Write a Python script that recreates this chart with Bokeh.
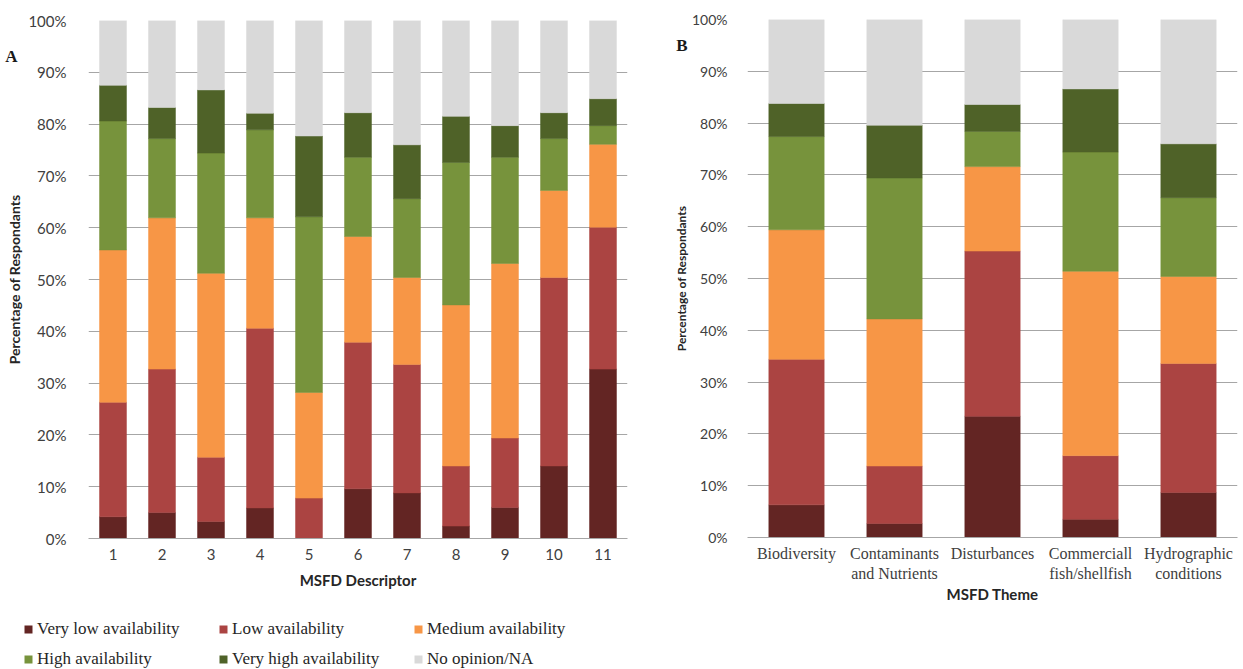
from bokeh.plotting import figure
from bokeh.layouts import row, column
from bokeh.models import (ColumnDataSource, Legend, LegendItem, LinearAxis,
                          CustomJSTickFormatter, PrintfTickFormatter,
                          FixedTicker, Range1d, FactorRange)
from bokeh.embed import file_html
from bokeh.resources import INLINE

# ---------------- data ----------------
levels = ["Very low availability", "Low availability", "Medium availability",
          "High availability", "Very high availability", "No opinion/NA"]
keys = ["vlow", "low", "med", "high", "vhigh", "na"]
colors = ["#632523", "#ab4442", "#f79646", "#77933c", "#4f6228", "#d9d9d9"]

descriptors = ["1", "2", "3", "4", "5", "6", "7", "8", "9", "10", "11"]
a_vlow = [4.2, 5.0, 3.3, 5.9, 0.0, 9.6, 8.8, 2.4, 6.0, 14.0, 32.7]
a_low = [22.1, 27.7, 12.4, 34.7, 7.8, 28.3, 24.8, 11.6, 13.4, 36.4, 27.4]
a_med = [29.4, 29.2, 35.5, 21.3, 20.4, 20.4, 16.8, 31.1, 33.7, 16.8, 16.0]
a_high = [24.9, 15.3, 23.2, 17.0, 33.9, 15.3, 15.2, 27.5, 20.5, 10.0, 3.6]
a_vhigh = [6.9, 6.0, 12.2, 3.2, 15.6, 8.6, 10.4, 8.9, 6.1, 5.0, 5.2]
a_na = [12.5, 16.8, 13.4, 17.9, 22.3, 17.8, 24.0, 18.5, 20.3, 17.8, 15.1]

themes = ["Biodiversity", "Contaminants\nand Nutrients", "Disturbances",
          "Commerciall\nfish/shellfish", "Hydrographic\nconditions"]
b_vlow = [6.3, 2.7, 23.4, 3.5, 8.7]
b_low = [28.1, 11.1, 31.9, 12.3, 24.9]
b_med = [25.0, 28.4, 16.3, 35.6, 16.8]
b_high = [18.0, 27.2, 6.8, 23.0, 15.2]
b_vhigh = [6.4, 10.2, 5.2, 12.2, 10.4]
b_na = [16.2, 20.4, 16.4, 13.4, 24.0]

y_ticks = list(range(0, 101, 10))

GRID = "#a6a6a6"
TICK_COL = "#404040"
TITLE_COL = "#262626"


def make_panel(factors, series, width, height, bw, border, tick_size, title_size,
               xlabel, ylabel, ystandoff, ylab_standoff, xstandoff, xlab_standoff,
               xlabel_font, xlabel_size):
    data = {"x": factors}
    for k, s in zip(keys, series):
        data[k] = s
    src = ColumnDataSource(data)
    left, right, top, bottom = border
    p = figure(x_range=FactorRange(*factors), y_range=Range1d(0, 100),
               width=width, height=height, output_backend="svg",
               toolbar_location=None, min_border_left=left,
               min_border_right=right, min_border_top=top,
               min_border_bottom=bottom)
    p.vbar_stack(keys, x="x", width=bw, source=src, fill_color=colors,
                 line_color=colors, line_width=0.5)
    p.outline_line_color = None
    p.xgrid.grid_line_color = None
    p.ygrid.grid_line_color = GRID
    p.ygrid.grid_line_width = 1
    p.yaxis.ticker = FixedTicker(ticks=y_ticks)
    p.yaxis.formatter = PrintfTickFormatter(format="%d%%")
    p.yaxis.axis_line_color = None
    p.yaxis.major_tick_line_color = None
    p.yaxis.minor_tick_line_color = None
    p.yaxis.major_label_standoff = ystandoff
    p.yaxis.major_label_text_font = "Lato"
    p.yaxis.major_label_text_font_size = tick_size
    p.yaxis.major_label_text_color = TICK_COL
    p.yaxis.axis_label = ylabel
    p.yaxis.axis_label_standoff = ylab_standoff
    p.yaxis.axis_label_text_font = "Lato"
    p.yaxis.axis_label_text_font_style = "bold"
    p.yaxis.axis_label_text_font_size = title_size
    p.yaxis.axis_label_text_line_height = 1.0
    p.yaxis.axis_label_text_color = TITLE_COL

    p.xaxis.axis_line_color = GRID
    p.xaxis.major_tick_line_color = None
    p.xaxis.minor_tick_line_color = None
    p.xaxis.major_label_standoff = xstandoff
    p.xaxis.major_label_text_font = xlabel_font
    p.xaxis.major_label_text_font_size = xlabel_size
    p.xaxis.major_label_text_color = TICK_COL
    p.xaxis.axis_label = xlabel
    p.xaxis.axis_label_standoff = xlab_standoff
    p.xaxis.axis_label_text_font = "Lato"
    p.xaxis.axis_label_text_font_style = "bold"
    p.xaxis.axis_label_text_font_size = "15px"
    p.xaxis.axis_label_text_color = TITLE_COL
    return p


def panel_letter(p, letter, at_value, standoff):
    # panel letter drawn as the single tick label of an outer, line-less axis
    p.extra_y_ranges = {"letter": Range1d(0, 100)}
    ax = LinearAxis(y_range_name="letter",
                    ticker=FixedTicker(ticks=[at_value], minor_ticks=[]),
                    formatter=CustomJSTickFormatter(code="return '%s';" % letter),
                    axis_line_color=None, major_tick_line_color=None,
                    minor_tick_line_color=None,
                    major_label_standoff=standoff,
                    major_label_text_font="Liberation Serif",
                    major_label_text_font_style="bold",
                    major_label_text_font_size="17px",
                    major_label_text_color="#1a1a1a")
    p.add_layout(ax, "left")


pA = make_panel(descriptors, [a_vlow, a_low, a_med, a_high, a_vhigh, a_na],
                640, 594, 0.55, (88, 13, 20, 56), "15px", "14px",
                "MSFD Descriptor", "Percentage of Respondants",
                16, 2, 4, 8, "Lato", "15px")
panel_letter(pA, "A", 93, -20)

pB = make_panel(themes, [b_vlow, b_low, b_med, b_high, b_vhigh, b_na],
                603, 617, 0.565, (107, 6, 19, 80), "14px", "12px",
                "MSFD Theme", "Percentage of Respondants",
                14, 0, 1, 0, "Liberation Serif", "16px")
panel_letter(pB, "B", 95, -23)

# ---------------- legend ----------------
pL = figure(width=640, height=75, output_backend="svg", toolbar_location=None,
            x_range=Range1d(0, 1), y_range=Range1d(0, 1),
            x_axis_location=None, y_axis_location=None,
            min_border_left=23, min_border_top=25, min_border_right=0,
            min_border_bottom=0)
pL.grid.visible = False
pL.outline_line_color = None
items = []
for lv, c in zip(levels, colors):
    r = pL.vbar(x=[-5], top=[0], width=0, fill_color=c, line_color=None)
    items.append(LegendItem(label=lv, renderers=[r]))
legend = Legend(items=items, location="top_left", orientation="horizontal",
                ncols=3, glyph_width=10, glyph_height=10, label_standoff=4,
                label_width=171, label_height=18, spacing=10, padding=0,
                margin=0, border_line_color=None, background_fill_alpha=0,
                label_text_font="Liberation Serif", label_text_font_size="17px",
                label_text_color="#262626")
pL.add_layout(legend, "center")

layout = row(column(pA, row(pL)), pB)

open("out.html", "w").write(file_html(layout, INLINE))
